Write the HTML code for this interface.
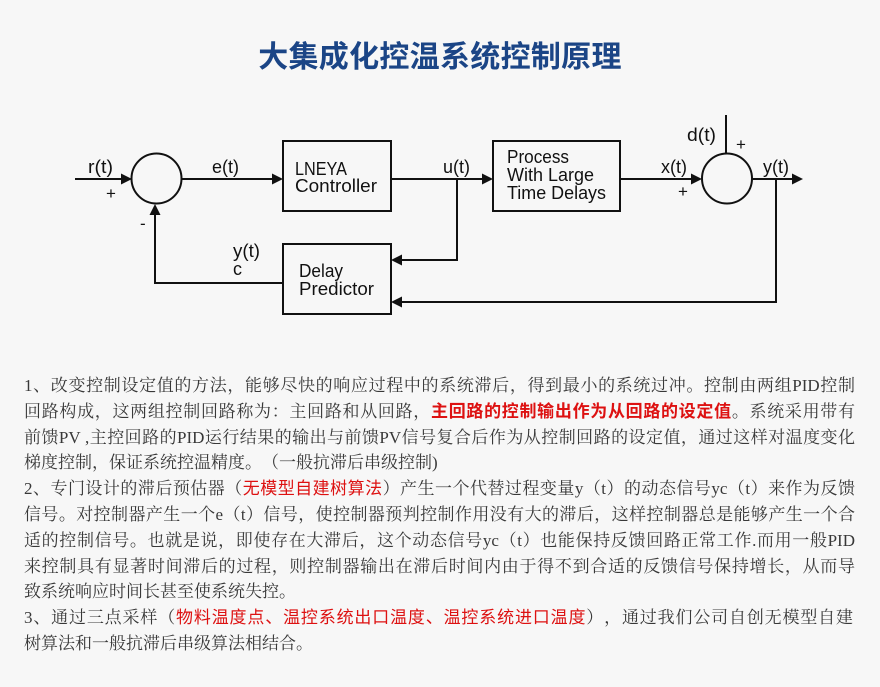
<!DOCTYPE html>
<html>
<head>
<meta charset="utf-8">
<style>
  html,body{margin:0;padding:0;}
  body{width:880px;height:687px;background:#f7f7f7;position:relative;overflow:hidden;}
  .title{position:absolute;left:0;top:43px;width:880px;height:30px;line-height:30px;text-align:center;
    font-family:"Liberation Sans","Noto Sans CJK SC",sans-serif;font-weight:bold;font-size:30px;color:#1b4586;letter-spacing:0.3px;}
  svg{position:absolute;left:0;top:0;}
  .ln{position:absolute;left:24px;width:831px;height:26px;line-height:26px;
    font-family:"Liberation Serif","Noto Serif CJK SC",serif;font-size:17px;color:#383838;
    text-spacing-trim:space-all;}
  .j{text-align:justify;text-align-last:justify;}
  .r{color:#dd1111;font-family:"Liberation Sans","Noto Sans CJK SC",sans-serif;}
  .rb{color:#dd1111;font-family:"Liberation Sans","Noto Sans CJK SC",sans-serif;font-weight:bold;}
</style>
</head>
<body>
<div class="title">大集成化控温系统控制原理</div>

<svg width="880" height="687" viewBox="0 0 880 687">
  <g stroke="#111" stroke-width="2" fill="none">
    <line x1="75" y1="179" x2="122" y2="179"/>
    <circle cx="156.5" cy="178.5" r="25"/>
    <line x1="182" y1="179" x2="274" y2="179"/>
    <rect x="283" y="141" width="108" height="70"/>
    <line x1="391" y1="179" x2="484" y2="179"/>
    <polyline points="457,179 457,260 401,260"/>
    <rect x="493" y="141" width="127" height="70"/>
    <line x1="620" y1="179" x2="692" y2="179"/>
    <circle cx="727" cy="178.5" r="25"/>
    <line x1="726" y1="115" x2="726" y2="154"/>
    <line x1="752" y1="179" x2="792" y2="179"/>
    <polyline points="776,179 776,302 401,302"/>
    <rect x="283" y="244" width="108" height="70"/>
    <polyline points="283,283 155,283 155,214"/>
  </g>
  <g fill="#111">
    <polygon points="132,179 121,173.5 121,184.5"/>
    <polygon points="155,204 149.5,215 160.5,215"/>
    <polygon points="283,179 272,173.5 272,184.5"/>
    <polygon points="493,179 482,173.5 482,184.5"/>
    <polygon points="702,179 691,173.5 691,184.5"/>
    <polygon points="803,179 792,173.5 792,184.5"/>
    <polygon points="391,260 402,254.5 402,265.5"/>
    <polygon points="391,302 402,296.5 402,307.5"/>
  </g>
  <g font-family="Liberation Sans, sans-serif" font-size="18" fill="#111">
    <text x="88" y="173" textLength="25" lengthAdjust="spacingAndGlyphs">r(t)</text>
    <text x="212" y="173" textLength="27" lengthAdjust="spacingAndGlyphs">e(t)</text>
    <text x="443" y="173" textLength="27" lengthAdjust="spacingAndGlyphs">u(t)</text>
    <text x="661" y="173" textLength="26" lengthAdjust="spacingAndGlyphs">x(t)</text>
    <text x="763" y="173" textLength="26" lengthAdjust="spacingAndGlyphs">y(t)</text>
    <text x="687" y="141" textLength="29" lengthAdjust="spacingAndGlyphs">d(t)</text>
    <text x="233" y="257" textLength="27" lengthAdjust="spacingAndGlyphs">y(t)</text>
    <text x="233" y="275">c</text>

    <text x="295" y="175" textLength="52" lengthAdjust="spacingAndGlyphs">LNEYA</text>
    <text x="295" y="192" textLength="82" lengthAdjust="spacingAndGlyphs">Controller</text>

    <text x="507" y="163" textLength="62" lengthAdjust="spacingAndGlyphs">Process</text>
    <text x="507" y="181" textLength="87" lengthAdjust="spacingAndGlyphs">With Large</text>
    <text x="507" y="199" textLength="99" lengthAdjust="spacingAndGlyphs">Time Delays</text>

    <text x="299" y="277" textLength="44" lengthAdjust="spacingAndGlyphs">Delay</text>
    <text x="299" y="295" textLength="75" lengthAdjust="spacingAndGlyphs">Predictor</text>
  </g>
  <g font-family="Liberation Sans, sans-serif" font-size="17" fill="#111">
    <text x="106" y="199">+</text>
    <text x="140" y="229">-</text>
    <text x="678" y="197">+</text>
    <text x="736" y="150">+</text>
  </g>
</svg>

<div class="ln j" style="top:373px;">1、改变控制设定值的方法，能够尽快的响应过程中的系统滞后，得到最小的系统过冲。控制由两组PID控制</div>
<div class="ln j" style="top:398.8px;">回路构成，这两组控制回路称为：主回路和从回路，<span class="rb">主回路的控制输出作为从回路的设定值</span>。系统采用带有</div>
<div class="ln j" style="top:424.6px;">前馈PV ,主控回路的PID运行结果的输出与前馈PV信号复合后作为从控制回路的设定值，通过这样对温度变化</div>
<div class="ln" style="top:450.4px;">梯度控制，保证系统控温精度。（一般抗滞后串级控制)</div>
<div class="ln j" style="top:476.2px;">2、专门设计的滞后预估器（<span class="r">无模型自建树算法</span>）产生一个代替过程变量y（t）的动态信号yc（t）来作为反馈</div>
<div class="ln j" style="top:502px;">信号。对控制器产生一个e（t）信号，使控制器预判控制作用没有大的滞后，这样控制器总是能够产生一个合</div>
<div class="ln j" style="top:527.8px;">适的控制信号。也就是说，即使存在大滞后，这个动态信号yc（t）也能保持反馈回路正常工作.而用一般PID</div>
<div class="ln j" style="top:553.6px;">来控制具有显著时间滞后的过程，则控制器输出在滞后时间内由于得不到合适的反馈信号保持增长，从而导</div>
<div class="ln" style="top:579.4px;">致系统响应时间长甚至使系统失控。</div>
<div class="ln j" style="top:605.2px;width:829px;">3、通过三点采样（<span class="r">物料温度点、温控系统出口温度、温控系统进口温度</span>），通过我们公司自创无模型自建</div>
<div class="ln" style="top:631px;">树算法和一般抗滞后串级算法相结合。</div>
</body>
</html>
